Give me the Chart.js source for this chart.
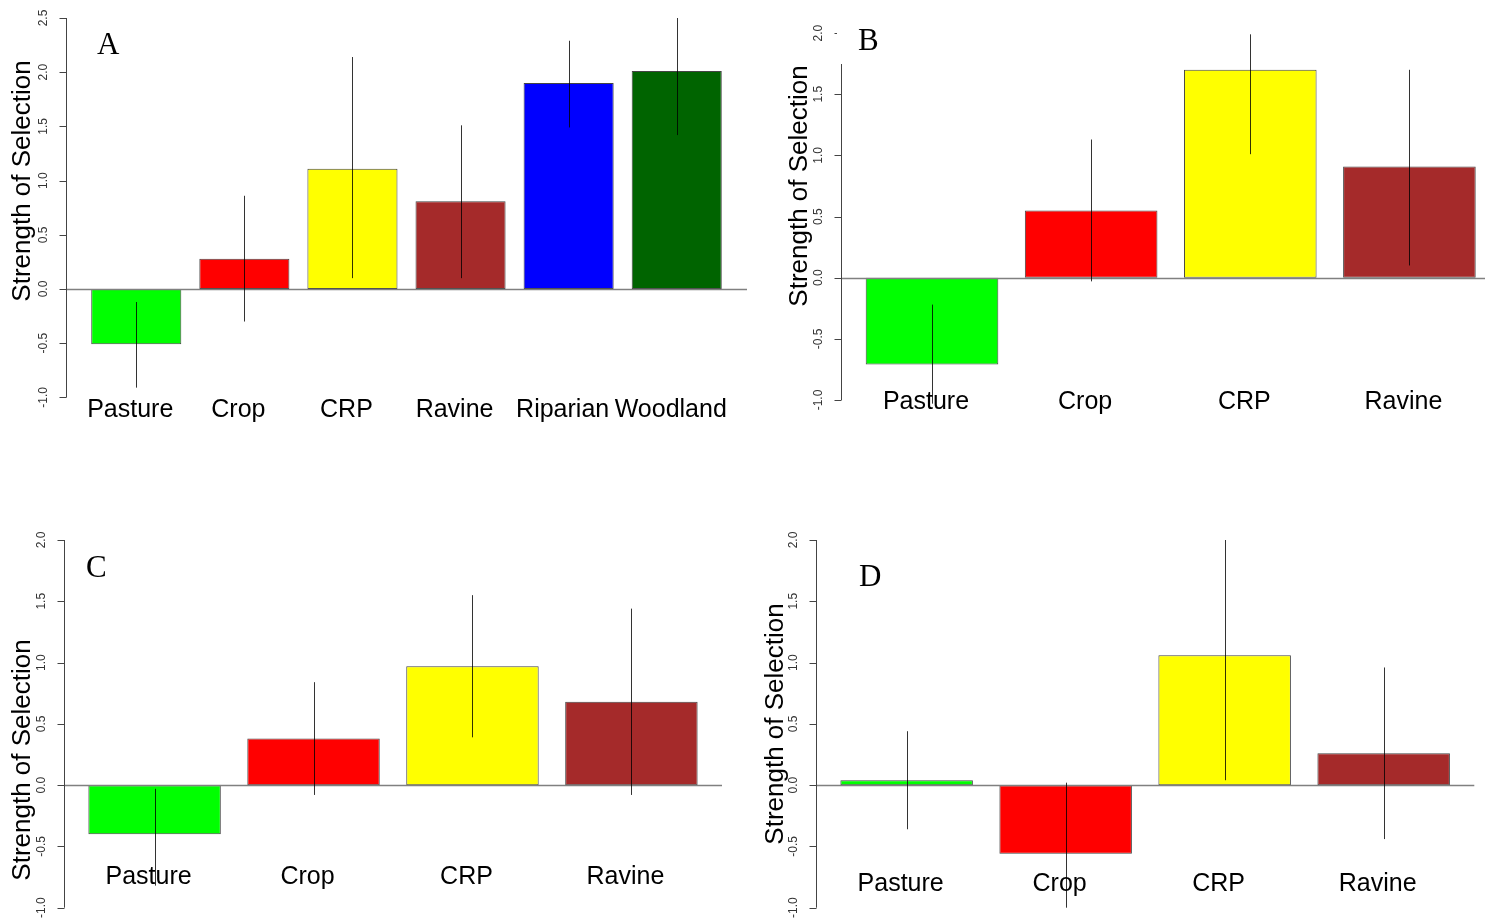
<!DOCTYPE html>
<html>
<head>
<meta charset="utf-8">
<script src="https://cdn.jsdelivr.net/npm/chart.js@4.4.1/dist/chart.umd.min.js"></script>
<style>
  html, body { margin: 0; padding: 0; background: #fff; }
  #wrap { position: relative; width: 1485px; height: 921px; overflow: hidden; }
  #wrap canvas { position: absolute; }
</style>
</head>
<body>
<div id="wrap"></div>
<script>
'use strict';

// ── Data ──────────────────────────────────────────────────────
const habitats6 = ['Pasture', 'Crop', 'CRP', 'Ravine', 'Riparian', 'Woodland'];
const habitats4 = ['Pasture', 'Crop', 'CRP', 'Ravine'];
const colors6   = ['#00ff00', '#ff0000', '#ffff00', '#a52a2a', '#0000ff', '#006400'];
const colors4   = ['#00ff00', '#ff0000', '#ffff00', '#a52a2a'];

const valuesA = [-0.51, 0.28, 1.11, 0.81, 1.90, 2.01];
const upperA  = [-0.12, 0.86, 2.14, 1.51, 2.29, 2.50];
const lowerA  = [-0.91, -0.30, 0.10, 0.10, 1.49, 1.42];

const valuesB = [-0.71, 0.55, 1.70, 0.91];
const upperB  = [-0.22, 1.13, 1.99, 1.70];
const lowerB  = [-1.03, -0.03, 1.01, 0.10];

const valuesC = [-0.40, 0.38, 0.97, 0.68];
const upperC  = [-0.03, 0.84, 1.55, 1.44];
const lowerC  = [-0.82, -0.08, 0.39, -0.08];

const valuesD = [0.04, -0.56, 1.06, 0.26];
const upperD  = [0.44, 0.02, 2.00, 0.96];
const lowerD  = [-0.36, -1.00, 0.04, -0.44];

const ticksA   = [-1.0, -0.5, 0.0, 0.5, 1.0, 1.5, 2.0, 2.5];
const ticksBCD = [-1.0, -0.5, 0.0, 0.5, 1.0, 1.5, 2.0];

const SANS  = '"Liberation Sans", Arial, sans-serif';
const SERIF = '"Liberation Serif", "Times New Roman", serif';
const YLAB  = 'Strength of Selection';

// ── Panel layout (page pixels) ────────────────────────────────
const panels = [
  { letter: 'A', names: habitats6, colors: colors6, values: valuesA, upper: upperA, lower: lowerA, ticks: ticksA,
    box: { left: 0, top: 0, w: 760, h: 460 }, plot: { l: 66, r: 747, t: 18, b: 397.4 },
    xMin: -0.08, xMax: 7.48, yMin: -1, yMax: 2.5,
    letterPos: [97, 54], titlePos: [23, 181], labelY: 417 },
  { letter: 'B', names: habitats4, colors: colors4, values: valuesB, upper: upperB, lower: lowerB, ticks: ticksBCD,
    box: { left: 760, top: 0, w: 725, h: 460 }, plot: { l: 841.3, r: 1485, t: 33.1, b: 400 },
    xMin: 0.016, xMax: 4.87, yMin: -1, yMax: 2,
    letterPos: [858, 50], titlePos: [800, 186], labelY: 409,
    mask: { x: 837, y: 0, w: 70, h: 64 } },
  { letter: 'C', names: habitats4, colors: colors4, values: valuesC, upper: upperC, lower: lowerC, ticks: ticksBCD,
    box: { left: 0, top: 460, w: 760, h: 461 }, plot: { l: 64, r: 722, t: 540, b: 907.7 },
    xMin: 0.016, xMax: 4.984, yMin: -1, yMax: 2,
    letterPos: [86, 577], titlePos: [23, 760], labelY: 884 },
  { letter: 'D', names: habitats4, colors: colors4, values: valuesD, upper: upperD, lower: lowerD, ticks: ticksBCD,
    box: { left: 760, top: 460, w: 725, h: 461 }, plot: { l: 816, r: 1474.3, t: 540, b: 907.7 },
    xMin: 0.016, xMax: 4.984, yMin: -1, yMax: 2,
    letterPos: [859, 586], titlePos: [776, 724], labelY: 891 },
];

// ── R-style decorations: zero line, error bars, axis, labels ─
const rBarplot = {
  id: 'rBarplot',
  afterDatasetsDraw(chart, args, opts) {
    const { ctx, chartArea: area, scales: { y } } = chart;
    const meta = chart.getDatasetMeta(0);
    const p = opts.panel;

    ctx.save();
    const y0 = Math.round(y.getPixelForValue(0)) + 0.5;
    ctx.strokeStyle = '#808080';
    ctx.lineWidth = 1.5;
    ctx.beginPath();
    ctx.moveTo(area.left, y0);
    ctx.lineTo(area.right, y0);
    ctx.stroke();

    ctx.strokeStyle = 'rgba(0,0,0,0.8)';
    ctx.lineWidth = 1;
    meta.data.forEach((bar, i) => {
      const px = Math.round(bar.x) + 0.5;
      ctx.beginPath();
      ctx.moveTo(px, y.getPixelForValue(p.upper[i]));
      ctx.lineTo(px, y.getPixelForValue(p.lower[i]));
      ctx.stroke();
    });
    ctx.restore();
  },
  afterDraw(chart, args, opts) {
    const { ctx, chartArea: area, scales: { y } } = chart;
    const meta = chart.getDatasetMeta(0);
    const p = opts.panel;
    const ox = p.box.left, oy = p.box.top;
    const ax = Math.round(area.left) + 0.5;

    ctx.save();
    // y axis line + ticks
    ctx.strokeStyle = '#444';
    ctx.lineWidth = 1;
    const tTop = y.getPixelForValue(p.ticks[p.ticks.length - 1]);
    const tBot = y.getPixelForValue(p.ticks[0]);
    ctx.beginPath();
    ctx.moveTo(ax, tTop);
    ctx.lineTo(ax, tBot);
    p.ticks.forEach(t => {
      const ty = Math.round(y.getPixelForValue(t)) + 0.5;
      ctx.moveTo(ax - 7, ty);
      ctx.lineTo(ax, ty);
    });
    ctx.stroke();

    // tick labels, rotated like R's las = 0
    ctx.fillStyle = '#333';
    ctx.font = '12px ' + SANS;
    ctx.textAlign = 'center';
    ctx.textBaseline = 'middle';
    p.ticks.forEach(t => {
      ctx.save();
      ctx.translate(ax - 22.5, y.getPixelForValue(t));
      ctx.rotate(-Math.PI / 2);
      ctx.fillText(t.toFixed(1), 0, 0);
      ctx.restore();
    });

    // white box behind the panel letter
    if (p.mask) {
      ctx.fillStyle = '#fff';
      ctx.fillRect(p.mask.x - ox, p.mask.y - oy, p.mask.w, p.mask.h);
    }

    // axis title
    ctx.fillStyle = '#000';
    ctx.font = '26px ' + SANS;
    ctx.save();
    ctx.translate(p.titlePos[0] - ox, p.titlePos[1] - oy);
    ctx.rotate(-Math.PI / 2);
    ctx.fillText(YLAB, 0, 0);
    ctx.restore();

    // category names under the bars
    ctx.font = '25px ' + SANS;
    ctx.textBaseline = 'alphabetic';
    meta.data.forEach((bar, i) => {
      ctx.fillText(p.names[i], bar.x - 6, p.labelY - oy);
    });

    // panel letter
    ctx.font = '31px ' + SERIF;
    ctx.textAlign = 'left';
    ctx.fillText(p.letter, p.letterPos[0] - ox, p.letterPos[1] - oy);
    ctx.restore();
  }
};

// ── Build the four charts ─────────────────────────────────────
const wrap = document.getElementById('wrap');

panels.forEach(p => {
  const canvas = document.createElement('canvas');
  canvas.width = p.box.w;
  canvas.height = p.box.h;
  canvas.style.left = p.box.left + 'px';
  canvas.style.top = p.box.top + 'px';
  canvas.style.width = p.box.w + 'px';
  canvas.style.height = p.box.h + 'px';
  wrap.appendChild(canvas);

  // bar midpoints as in R's barplot (width 1, space 0.2)
  const mids = p.values.map((v, i) => 0.7 + 1.2 * i);
  const points = p.values.map((v, i) => ({ x: mids[i], y: v }));

  new Chart(canvas, {
    type: 'bar',
    data: {
      datasets: [{
        data: points,
        backgroundColor: p.colors,
        borderColor: '#444',
        borderWidth: 1,
        borderSkipped: false,
        categoryPercentage: 1,
        barPercentage: 1 / 1.2,
      }]
    },
    options: {
      responsive: false,
      animation: false,
      devicePixelRatio: 1,
      layout: {
        padding: {
          left: p.plot.l - p.box.left,
          right: p.box.left + p.box.w - p.plot.r,
          top: p.plot.t - p.box.top,
          bottom: p.box.top + p.box.h - p.plot.b,
        }
      },
      scales: {
        x: {
          type: 'linear', min: p.xMin, max: p.xMax, offset: false, display: false,
          // one tick per bar so the bar ruler spans a full slot
          afterBuildTicks: scale => { scale.ticks = mids.map(m => ({ value: m })); },
        },
        y: { type: 'linear', min: p.yMin, max: p.yMax, display: false },
      },
      plugins: {
        legend: { display: false },
        tooltip: { enabled: false },
        rBarplot: { panel: p },
      }
    },
    plugins: [rBarplot]
  });
});
</script>
</body>
</html>
